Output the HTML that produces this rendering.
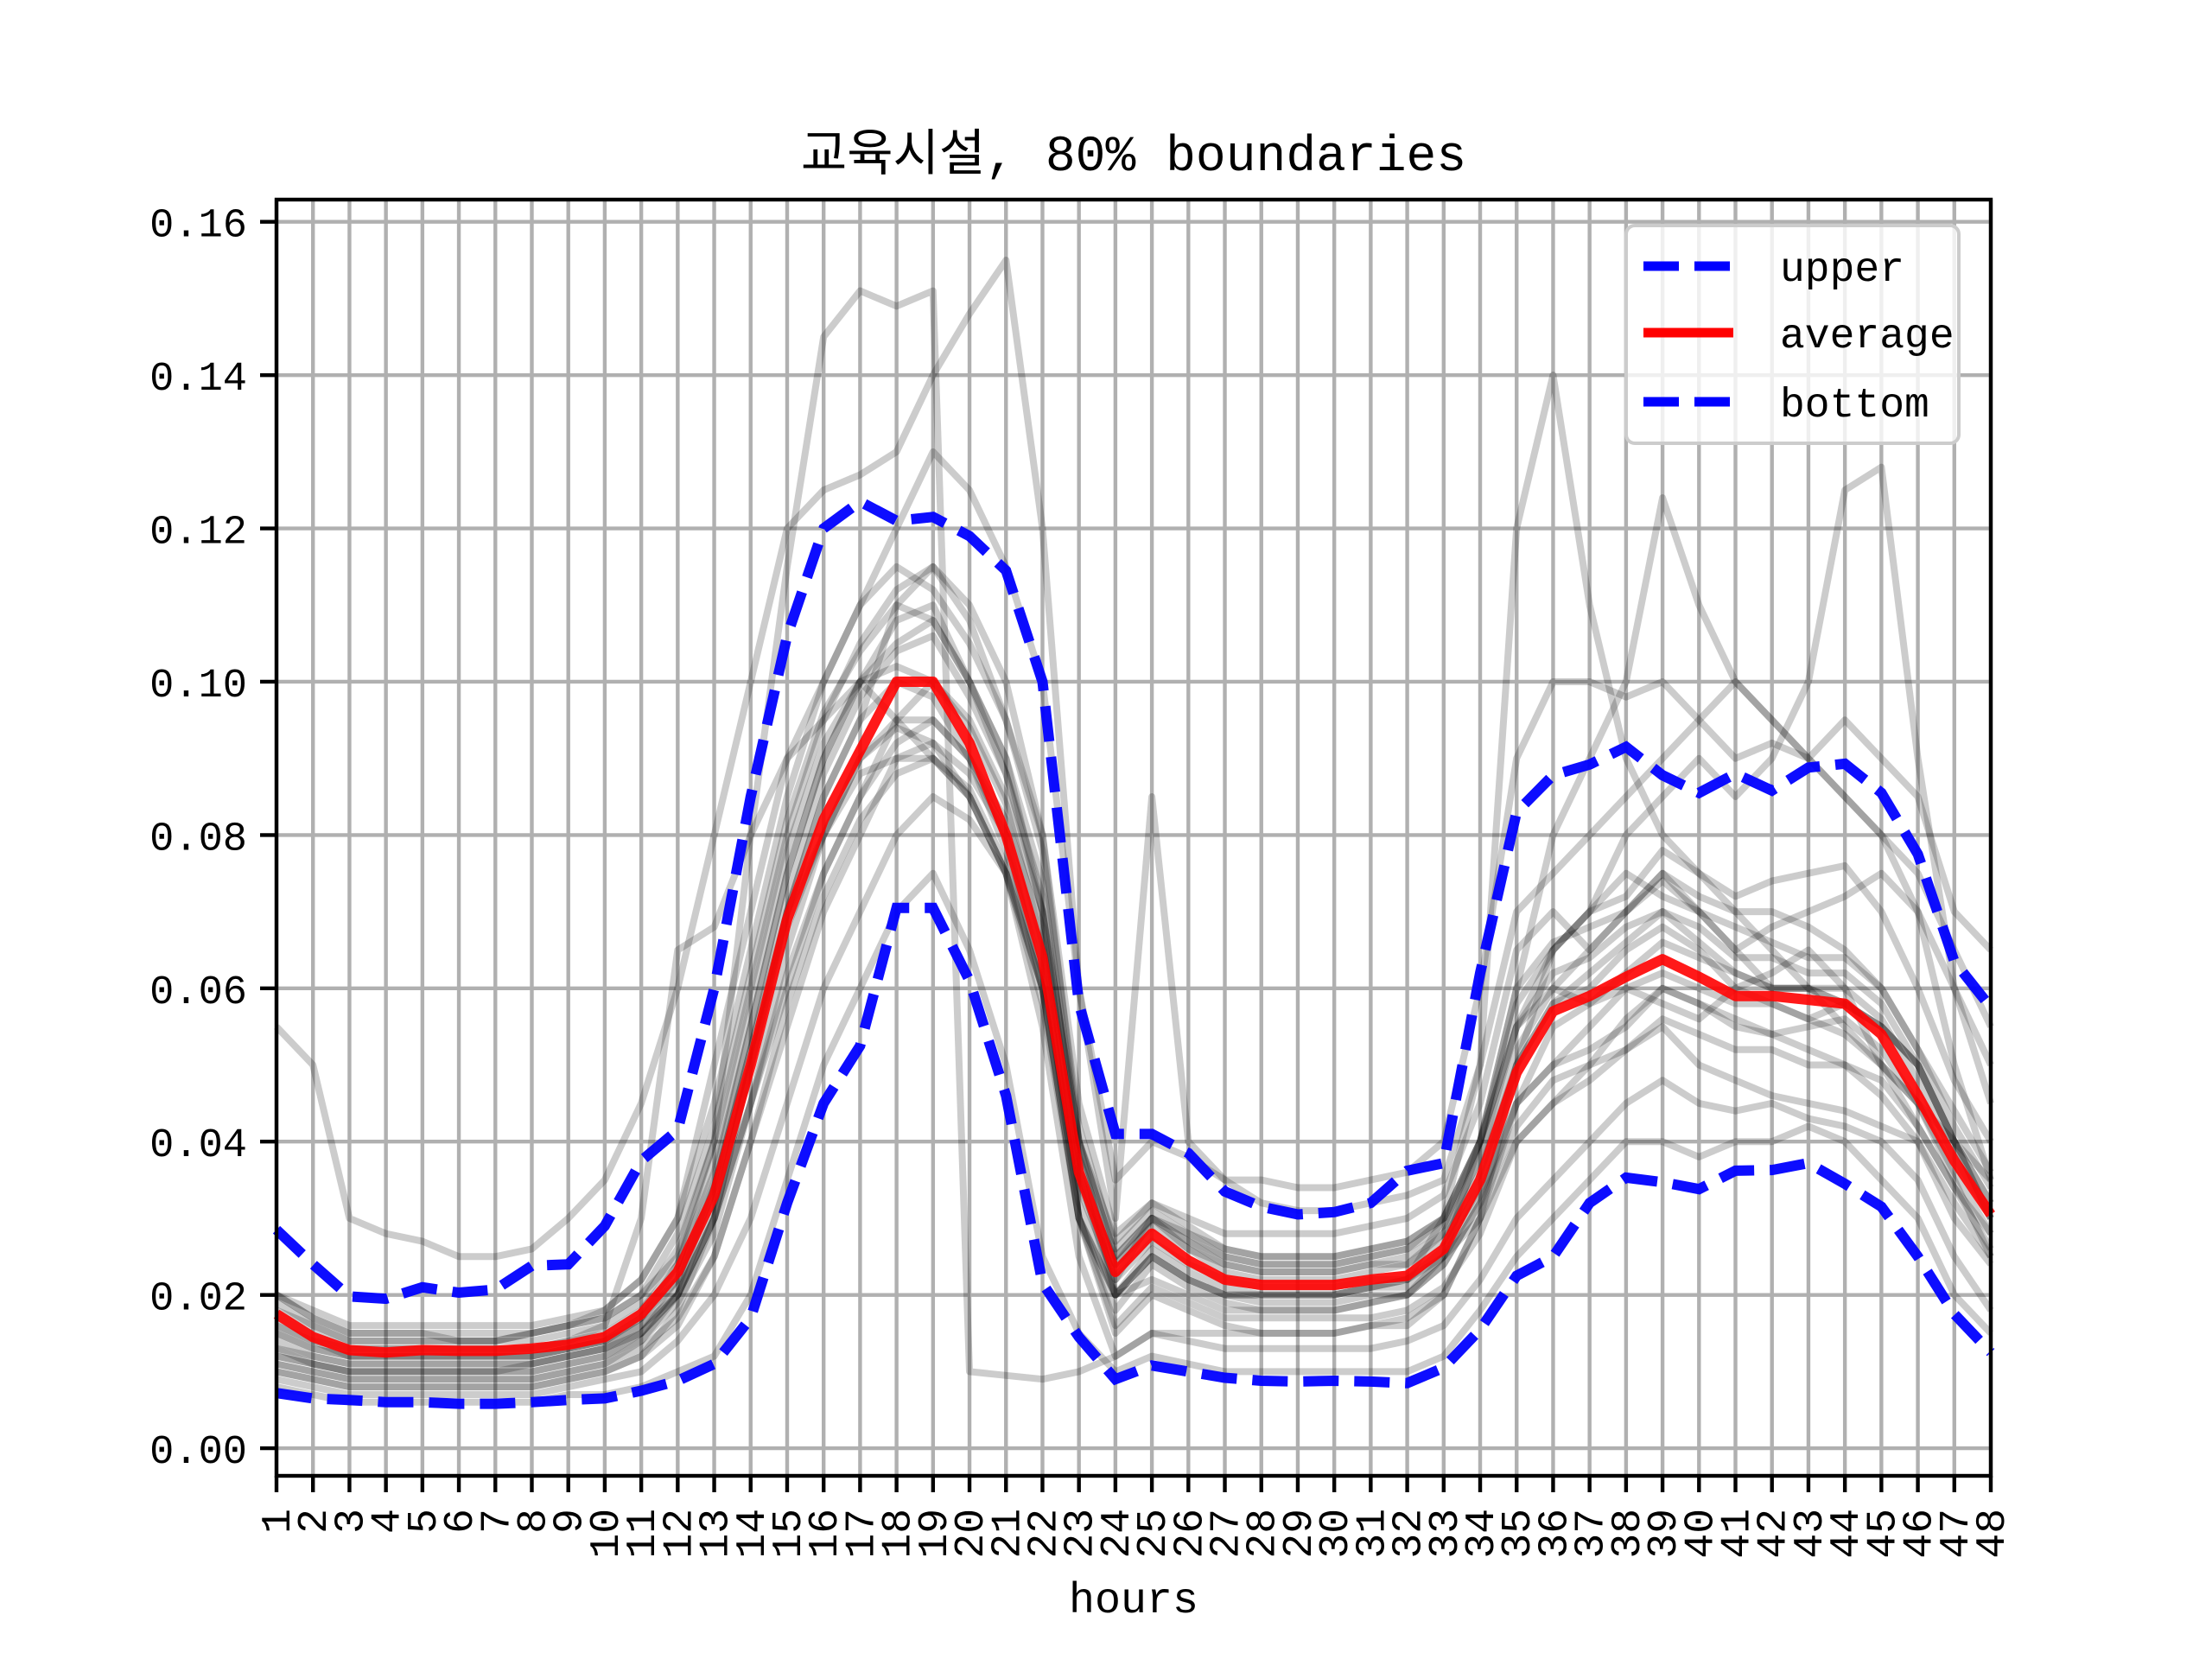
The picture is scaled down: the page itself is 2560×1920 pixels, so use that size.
<!DOCTYPE html>
<html><head><meta charset="utf-8"><style>html,body{margin:0;padding:0;background:#fff}svg{display:block}</style></head>
<body>
<svg id="chart" width="2560" height="1920" xmlns="http://www.w3.org/2000/svg" font-family="'Liberation Mono','Noto Sans CJK KR',monospace">
<rect width="2560" height="1920" fill="#fff"/>
<text x="1312" y="197" font-size="58" text-anchor="middle">교육시설, 80% boundaries</text>
<g id="grid"></g>
<g id="plot"></g>
<g id="axes"></g>
<text x="1312" y="1866" font-size="50" text-anchor="middle">hours</text>
<g>
<rect x="1882" y="261" width="385" height="252" rx="10" fill="#fff" fill-opacity="0.8" stroke="#ccc" stroke-width="4"/>
<line x1="1902" y1="308" x2="2006" y2="308" stroke="#0000ff" stroke-width="11" stroke-dasharray="41,18"/>
<text x="2060" y="325" font-size="48">upper</text>
<line x1="1902" y1="385" x2="2006" y2="385" stroke="#ff0000" stroke-width="11"/>
<text x="2060" y="402" font-size="48">average</text>
<line x1="1902" y1="465" x2="2006" y2="465" stroke="#0000ff" stroke-width="11" stroke-dasharray="41,18"/>
<text x="2060" y="482" font-size="48">bottom</text>
</g>
</svg>
<script>
const hours = Array.from({length:48},(_,i)=>i+1);
const yTicks = [0,0.02,0.04,0.06,0.08,0.10,0.12,0.14,0.16];
const yTickLabels = ["0.00","0.02","0.04","0.06","0.08","0.10","0.12","0.14","0.16"];
const average = [0.0175,0.0145,0.0128,0.0125,0.0128,0.0127,0.0127,0.013,0.0135,0.0145,0.0175,0.023,0.033,0.05,0.069,0.082,0.091,0.1,0.1,0.092,0.08,0.064,0.036,0.023,0.028,0.0245,0.022,0.0213,0.0213,0.0213,0.022,0.0225,0.026,0.035,0.049,0.057,0.059,0.0615,0.0638,0.0615,0.059,0.059,0.0585,0.058,0.054,0.046,0.0375,0.0305];
const upper = [0.0285,0.024,0.0198,0.0195,0.021,0.0203,0.0207,0.0238,0.024,0.029,0.0375,0.0415,0.06,0.085,0.106,0.12,0.1235,0.121,0.1215,0.119,0.1145,0.1,0.058,0.041,0.041,0.0385,0.0335,0.0315,0.0305,0.0308,0.032,0.0362,0.0372,0.062,0.083,0.0878,0.0892,0.0915,0.0878,0.0855,0.088,0.0858,0.0888,0.0893,0.0855,0.0775,0.0635,0.0575];
const bottom = [0.0072,0.0065,0.0063,0.006,0.006,0.0058,0.0058,0.006,0.0063,0.0065,0.0075,0.0088,0.011,0.017,0.032,0.045,0.0525,0.0705,0.0705,0.061,0.046,0.0215,0.0145,0.009,0.0108,0.01,0.0092,0.0088,0.0087,0.0088,0.0087,0.0085,0.0105,0.0155,0.0225,0.025,0.032,0.0353,0.0347,0.0338,0.0362,0.0363,0.0372,0.0345,0.0315,0.025,0.0175,0.0125];
const g1=[0.055,0.05,0.03,0.028,0.027,0.025,0.025,0.026,0.03,0.035,0.045,0.06,0.08,0.1,0.12,0.125,0.127,0.13,0.14,0.148,0.155,0.12,0.06,0.035,0.04,0.038,0.035,0.035,0.034,0.034,0.035,0.036,0.04,0.06,0.09,0.1,0.1,0.098,0.1,0.095,0.09,0.092,0.09,0.095,0.09,0.085,0.07,0.065];
const g2=[0.02,0.017,0.015,0.015,0.015,0.014,0.014,0.015,0.016,0.017,0.02,0.025,0.04,0.08,0.115,0.145,0.151,0.149,0.151,0.01,0.0095,0.009,0.01,0.012,0.015,0.015,0.015,0.015,0.015,0.015,0.016,0.017,0.02,0.03,0.05,0.065,0.07,0.075,0.072,0.07,0.065,0.06,0.06,0.055,0.05,0.045,0.04,0.035];
const g3=[0.012,0.011,0.01,0.01,0.01,0.01,0.01,0.011,0.012,0.013,0.015,0.02,0.03,0.045,0.065,0.08,0.09,0.095,0.095,0.09,0.08,0.06,0.03,0.02,0.025,0.022,0.02,0.02,0.02,0.02,0.021,0.022,0.03,0.05,0.12,0.14,0.11,0.09,0.08,0.075,0.07,0.065,0.06,0.058,0.055,0.05,0.04,0.03];
const g4=[0.015,0.013,0.012,0.012,0.012,0.012,0.012,0.012,0.013,0.014,0.016,0.02,0.03,0.045,0.06,0.075,0.085,0.095,0.1,0.095,0.085,0.07,0.04,0.025,0.03,0.027,0.025,0.024,0.024,0.024,0.025,0.026,0.03,0.04,0.055,0.065,0.07,0.08,0.085,0.09,0.085,0.09,0.1,0.125,0.128,0.09,0.06,0.045];
const g5=[0.01,0.009,0.008,0.008,0.008,0.008,0.008,0.008,0.009,0.01,0.012,0.018,0.03,0.05,0.07,0.085,0.095,0.11,0.115,0.11,0.1,0.08,0.04,0.02,0.022,0.02,0.018,0.018,0.018,0.018,0.019,0.02,0.025,0.04,0.06,0.08,0.09,0.1,0.124,0.11,0.1,0.095,0.09,0.085,0.08,0.07,0.05,0.035];
const g6=[0.008,0.007,0.006,0.006,0.006,0.006,0.006,0.006,0.007,0.007,0.008,0.01,0.012,0.02,0.035,0.05,0.06,0.07,0.075,0.065,0.05,0.025,0.015,0.01,0.012,0.011,0.01,0.01,0.01,0.01,0.01,0.01,0.012,0.018,0.025,0.03,0.035,0.04,0.04,0.038,0.04,0.04,0.042,0.04,0.035,0.03,0.02,0.015];
const g7=[0.014,0.012,0.011,0.011,0.011,0.011,0.011,0.011,0.012,0.013,0.016,0.022,0.035,0.055,0.075,0.09,0.1,0.105,0.108,0.1,0.09,0.07,0.035,0.022,0.03,0.028,0.026,0.025,0.025,0.025,0.026,0.027,0.03,0.04,0.055,0.06,0.058,0.06,0.062,0.06,0.058,0.058,0.056,0.058,0.055,0.05,0.04,0.03];
const g8=[0.02,0.018,0.016,0.016,0.016,0.016,0.016,0.016,0.017,0.018,0.022,0.03,0.05,0.07,0.09,0.1,0.11,0.12,0.13,0.125,0.115,0.1,0.06,0.03,0.085,0.04,0.035,0.032,0.031,0.031,0.032,0.033,0.035,0.05,0.07,0.075,0.08,0.085,0.09,0.095,0.1,0.095,0.09,0.085,0.08,0.075,0.065,0.055];
const g9=[0.016,0.014,0.013,0.013,0.013,0.013,0.013,0.013,0.014,0.016,0.03,0.065,0.068,0.08,0.09,0.095,0.1,0.095,0.09,0.085,0.075,0.06,0.03,0.02,0.025,0.022,0.02,0.02,0.02,0.02,0.021,0.022,0.025,0.03,0.04,0.045,0.05,0.052,0.055,0.05,0.048,0.046,0.045,0.044,0.042,0.04,0.032,0.025];
const g10=[0.011,0.01,0.009,0.009,0.009,0.009,0.009,0.009,0.01,0.011,0.013,0.017,0.025,0.04,0.055,0.07,0.08,0.09,0.092,0.088,0.08,0.065,0.03,0.015,0.02,0.018,0.016,0.015,0.015,0.015,0.016,0.016,0.02,0.03,0.045,0.05,0.055,0.06,0.058,0.056,0.06,0.062,0.065,0.06,0.05,0.045,0.035,0.025];
const g11=[0.018,0.016,0.014,0.014,0.014,0.014,0.014,0.015,0.016,0.018,0.022,0.03,0.045,0.065,0.085,0.1,0.11,0.115,0.112,0.105,0.095,0.08,0.045,0.028,0.032,0.03,0.028,0.028,0.028,0.028,0.029,0.03,0.033,0.045,0.065,0.07,0.065,0.07,0.075,0.07,0.065,0.068,0.07,0.072,0.075,0.07,0.06,0.05];
const g12=[0.009,0.008,0.007,0.007,0.007,0.007,0.007,0.007,0.008,0.009,0.01,0.014,0.02,0.03,0.045,0.06,0.07,0.08,0.085,0.082,0.075,0.055,0.025,0.012,0.015,0.014,0.013,0.013,0.013,0.013,0.013,0.014,0.016,0.022,0.03,0.035,0.04,0.045,0.048,0.045,0.044,0.045,0.043,0.042,0.04,0.035,0.025,0.018];
const g13=[0.013,0.012,0.011,0.011,0.011,0.011,0.011,0.011,0.012,0.013,0.015,0.02,0.03,0.05,0.07,0.085,0.095,0.1,0.098,0.09,0.078,0.062,0.034,0.022,0.027,0.024,0.022,0.021,0.021,0.021,0.022,0.022,0.026,0.034,0.05,0.058,0.06,0.065,0.068,0.065,0.06,0.058,0.056,0.054,0.05,0.042,0.034,0.028];
const g14=[0.016,0.014,0.012,0.012,0.012,0.012,0.012,0.012,0.013,0.014,0.017,0.024,0.036,0.055,0.075,0.09,0.1,0.108,0.11,0.1,0.088,0.07,0.04,0.025,0.03,0.027,0.024,0.023,0.023,0.023,0.024,0.025,0.028,0.038,0.052,0.06,0.065,0.07,0.075,0.072,0.07,0.07,0.068,0.065,0.06,0.052,0.042,0.034];
const g15=[0.011,0.01,0.009,0.009,0.009,0.009,0.009,0.009,0.01,0.011,0.014,0.02,0.032,0.05,0.068,0.08,0.09,0.094,0.092,0.085,0.075,0.058,0.03,0.018,0.024,0.021,0.019,0.018,0.018,0.018,0.019,0.02,0.024,0.032,0.045,0.05,0.052,0.055,0.06,0.058,0.055,0.054,0.055,0.056,0.052,0.045,0.036,0.028];
const g16=[0.019,0.016,0.014,0.014,0.014,0.014,0.014,0.014,0.015,0.016,0.019,0.026,0.04,0.06,0.08,0.095,0.105,0.112,0.115,0.108,0.095,0.078,0.042,0.026,0.031,0.028,0.025,0.024,0.024,0.024,0.025,0.026,0.029,0.04,0.058,0.065,0.07,0.072,0.078,0.075,0.072,0.074,0.075,0.076,0.07,0.06,0.048,0.04];
const g17=[0.012,0.011,0.01,0.01,0.01,0.01,0.01,0.01,0.011,0.012,0.014,0.019,0.028,0.045,0.062,0.075,0.085,0.092,0.095,0.09,0.082,0.068,0.036,0.02,0.026,0.023,0.021,0.02,0.02,0.02,0.021,0.021,0.025,0.033,0.045,0.055,0.058,0.062,0.066,0.064,0.062,0.06,0.06,0.058,0.055,0.05,0.04,0.032];
const g18=[0.015,0.013,0.012,0.012,0.012,0.012,0.012,0.012,0.013,0.014,0.017,0.022,0.034,0.052,0.072,0.088,0.098,0.104,0.106,0.098,0.088,0.072,0.038,0.024,0.029,0.026,0.023,0.022,0.022,0.022,0.023,0.024,0.027,0.036,0.05,0.058,0.062,0.066,0.07,0.068,0.064,0.064,0.062,0.062,0.058,0.05,0.04,0.032];
const g19=[0.01,0.009,0.008,0.008,0.008,0.008,0.008,0.008,0.009,0.01,0.012,0.016,0.025,0.04,0.058,0.072,0.082,0.088,0.09,0.086,0.076,0.06,0.03,0.016,0.021,0.019,0.017,0.017,0.017,0.017,0.017,0.018,0.021,0.028,0.04,0.045,0.048,0.052,0.056,0.054,0.052,0.052,0.05,0.05,0.046,0.04,0.03,0.024];
const g20=[0.017,0.015,0.013,0.013,0.013,0.013,0.013,0.013,0.014,0.015,0.018,0.024,0.038,0.058,0.078,0.092,0.1,0.102,0.1,0.094,0.084,0.066,0.036,0.024,0.03,0.026,0.024,0.023,0.023,0.023,0.024,0.024,0.028,0.038,0.055,0.062,0.064,0.068,0.07,0.066,0.062,0.06,0.06,0.06,0.056,0.048,0.038,0.03];
const g21=[0.013,0.011,0.01,0.01,0.01,0.01,0.01,0.01,0.011,0.012,0.015,0.021,0.034,0.052,0.07,0.08,0.088,0.09,0.09,0.085,0.075,0.06,0.032,0.02,0.025,0.022,0.02,0.019,0.019,0.019,0.02,0.02,0.024,0.032,0.042,0.048,0.05,0.056,0.06,0.058,0.056,0.054,0.052,0.05,0.048,0.042,0.034,0.026];
const g22=[0.02,0.017,0.015,0.015,0.015,0.015,0.015,0.015,0.016,0.017,0.02,0.028,0.042,0.062,0.082,0.096,0.104,0.11,0.108,0.1,0.09,0.074,0.04,0.027,0.032,0.029,0.026,0.025,0.025,0.025,0.026,0.027,0.03,0.04,0.06,0.066,0.068,0.07,0.074,0.07,0.068,0.066,0.064,0.064,0.06,0.052,0.044,0.036];
const graySeries=[g1,g2,g3,g4,g5,g6,g7,g8,g9,g10,g11,g12,g13,g14,g15,g16,g17,g18,g19,g20,g21,g22];

const NS="http://www.w3.org/2000/svg";
const L=320,R=2304,T=231,B=1708;
const xMin=1,xMax=48,yMin=-0.0036,yMax=0.1629;
const xs=v=>L+(v-xMin)/(xMax-xMin)*(R-L);
const ys=v=>B-(v-yMin)/(yMax-yMin)*(B-T);
function mk(tag,attrs,parent){const e=document.createElementNS(NS,tag);for(const k in attrs)e.setAttribute(k,attrs[k]);parent.appendChild(e);return e;}
const grid=document.getElementById('grid'),plot=document.getElementById('plot'),axes=document.getElementById('axes');
hours.forEach(h=>{
  const l=mk('line',{x1:xs(h),x2:xs(h),y1:T,y2:B,stroke:'#b0b0b0','stroke-width':4.4},grid);
  
  
  const t=mk('line',{x1:xs(h),x2:xs(h),y1:B,y2:B+19,stroke:'#000','stroke-width':4.4},axes);
  
  
  const tx=mk('text',{x:0,y:0,'font-size':48,'text-anchor':'end',transform:`translate(${xs(h)+15},${B+38}) rotate(-90)`},axes);
  tx.textContent=String(h);
  
  
});
yTicks.forEach((v,i)=>{
  const l=mk('line',{x1:L,x2:R,y1:ys(v),y2:ys(v),stroke:'#b0b0b0','stroke-width':4.4},grid);
  
  
  const t=mk('line',{x1:L-19,x2:L,y1:ys(v),y2:ys(v),stroke:'#000','stroke-width':4.4},axes);
  
  
  const tx=mk('text',{x:L-34,y:ys(v)+17,'font-size':47,'text-anchor':'end'},axes);
  tx.textContent=yTickLabels[i];
  
  
});
const frame=mk('rect',{x:L,y:T,width:R-L,height:B-T,fill:'none',stroke:'#000','stroke-width':4.4},axes);


const pts=arr=>arr.map((v,i)=>xs(hours[i]).toFixed(1)+','+ys(v).toFixed(1)).join(' ');
graySeries.forEach(s=>{
  const p=mk('polyline',{points:pts(s),fill:'none',stroke:'#000','stroke-opacity':0.2,'stroke-width':8,'stroke-linejoin':'round'},plot);
  
  
});
const avg=mk('polyline',{points:pts(average),fill:'none',stroke:'#ff0000','stroke-opacity':0.9,'stroke-width':12,'stroke-linejoin':'round'},plot);


const up=mk('polyline',{points:pts(upper),fill:'none',stroke:'#0000ff','stroke-opacity':0.95,'stroke-width':12,'stroke-dasharray':'41,18'},plot);


const bt=mk('polyline',{points:pts(bottom),fill:'none',stroke:'#0000ff','stroke-opacity':0.95,'stroke-width':12,'stroke-dasharray':'41,18'},plot);


</script>
</body></html>
